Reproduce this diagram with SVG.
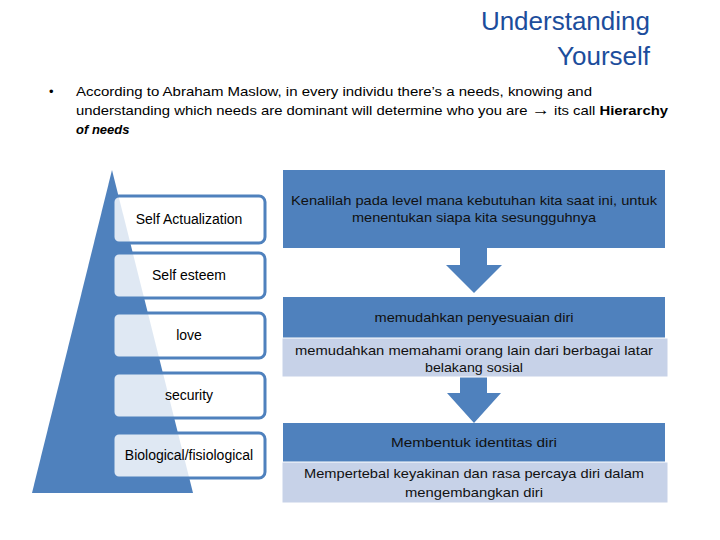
<svg xmlns="http://www.w3.org/2000/svg" width="720" height="540" viewBox="0 0 720 540">
<style>
.t{font-family:"Liberation Sans",Arial,sans-serif;}
.title{font-size:26px;fill:#1c4d9c;text-anchor:end;}
.body{font-size:13px;fill:#000;}
.lvl{fill:#fff;fill-opacity:0.82;stroke:#4f81bd;stroke-width:3;}
.lt{font-size:14px;fill:#000;text-anchor:middle;}
.dark{fill:#4f81bd;}
.light{fill:#c7d2e8;stroke:#fff;stroke-width:1;}
.rt{font-size:13px;fill:#111;text-anchor:middle;}
</style>
<rect width="720" height="540" fill="#fff"/>
<g id="title" class="t">
<text class="title" x="650" y="30">Understanding</text>
<text class="title" x="650" y="65">Yourself</text>
</g>
<g id="intro" class="t body">
<text x="49" y="96">•</text>
<text x="76" y="96" textLength="516" lengthAdjust="spacingAndGlyphs">According to  Abraham Maslow, in every individu there’s a needs,  knowing and</text>
<text x="76" y="115" textLength="592" lengthAdjust="spacingAndGlyphs">understanding  which needs are dominant will determine who you are <tspan font-size="16" font-weight="bold">→</tspan> its call  <tspan font-weight="bold">Hierarchy</tspan></text>
<text x="76" y="134" font-weight="bold" font-style="italic">of needs</text>
</g>
<g id="pyramid">
<polygon points="112,170 32,493 193,493" fill="#4f81bd"/>
</g>
<g id="level-self-actualization">
<rect class="lvl" x="113" y="196" width="152" height="47" rx="6"/>
<text class="t lt" x="189" y="224">Self Actualization</text>
</g>
<g id="level-self-esteem">
<rect class="lvl" x="113" y="253" width="152" height="45" rx="6"/>
<text class="t lt" x="189" y="280">Self esteem</text>
</g>
<g id="level-love">
<rect class="lvl" x="113" y="313" width="152" height="45" rx="6"/>
<text class="t lt" x="189" y="340">love</text>
</g>
<g id="level-security">
<rect class="lvl" x="113" y="373" width="152" height="45" rx="6"/>
<text class="t lt" x="189" y="400">security</text>
</g>
<g id="level-biological">
<rect class="lvl" x="113" y="433" width="152" height="45" rx="6"/>
<text class="t lt" x="189" y="460">Biological/fisiological</text>
</g>
<g id="connectors">
<polygon class="dark" points="460,248 487,248 487,265 502,265 474,293 446,265 460,265"/>
<polygon class="dark" points="460,377 487,377 487,393 501,393 474,423 447,393 460,393"/>
</g>
<g id="box-kenalilah">
<rect class="dark" x="283" y="170" width="382" height="78"/>
<text class="t rt" x="474" y="205" textLength="366" lengthAdjust="spacingAndGlyphs">Kenalilah pada level mana kebutuhan kita saat ini, untuk</text>
<text class="t rt" x="474" y="222" textLength="244" lengthAdjust="spacingAndGlyphs">menentukan siapa kita sesungguhnya</text>
</g>
<g id="box-penyesuaian">
<rect class="dark" x="283" y="297" width="382" height="41"/>
<text class="t rt" x="474" y="322" textLength="199" lengthAdjust="spacingAndGlyphs">memudahkan penyesuaian diri</text>
</g>
<g id="box-memahami">
<rect class="light" x="282" y="338" width="386" height="39"/>
<text class="t rt" x="474" y="355" textLength="358" lengthAdjust="spacingAndGlyphs">memudahkan memahami orang lain dari berbagai latar</text>
<text class="t rt" x="474" y="372" textLength="98" lengthAdjust="spacingAndGlyphs">belakang sosial</text>
</g>
<g id="box-identitas">
<rect class="dark" x="283" y="423" width="382" height="39"/>
<text class="t rt" x="474" y="447" textLength="166" lengthAdjust="spacingAndGlyphs">Membentuk identitas diri</text>
</g>
<g id="box-keyakinan">
<rect class="light" x="282" y="462" width="386" height="41"/>
<text class="t rt" x="474" y="478" textLength="340" lengthAdjust="spacingAndGlyphs">Mempertebal keyakinan dan rasa percaya diri dalam</text>
<text class="t rt" x="474" y="497" textLength="138" lengthAdjust="spacingAndGlyphs">mengembangkan diri</text>
</g>
</svg>
